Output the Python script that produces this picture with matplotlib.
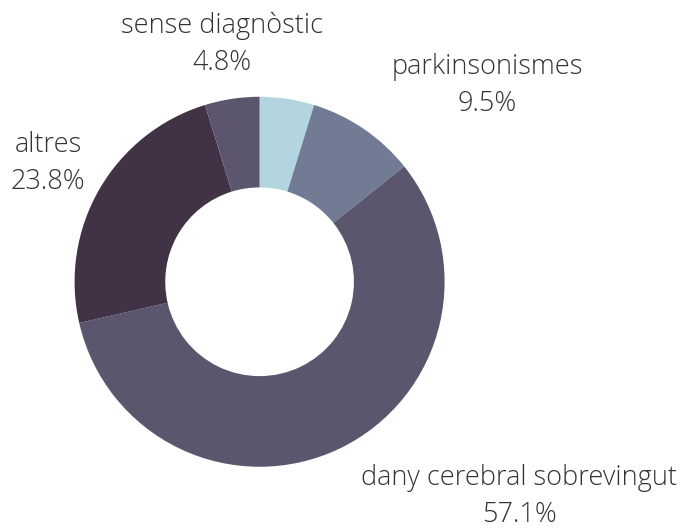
import matplotlib
matplotlib.use("Agg")
import matplotlib.pyplot as plt

categories = ["", "parkinsonismes", "dany cerebral sobrevingut", "altres", "sense diagnòstic"]
values = [1, 2, 12, 5, 1]
colors = ["#b2d5e0", "#717c94", "#5b566e", "#413245", "#5b566e"]
percent_labels = ["", "9.5%", "57.1%", "23.8%", "4.8%"]

# label anchor points, in units of the outer radius
label_pos = [None, (1.23, 1.06), (1.403, -1.16), (-1.143, 0.64), (-0.203, 1.285)]

plt.rcParams["font.family"] = ["Open Sans", "DejaVu Sans"]

fig = plt.figure(figsize=(6.79, 5.28), dpi=100)
ax = fig.add_axes([0, 0, 1, 1])
ax.pie(values, colors=colors, startangle=90, counterclock=False, radius=1,
       wedgeprops=dict(width=0.49, edgecolor="none"))

for cat, pct, pos in zip(categories, percent_labels, label_pos):
    if pos is None:
        continue
    ax.text(pos[0], pos[1], cat + "\n" + pct, ha="center", va="center",
            fontsize=19.5, fontweight="light", color="#333333", linespacing=1.42)

ax.set_xlim(-1.403, 2.267)
ax.set_ylim(-1.331, 1.523)
ax.set_aspect("equal")
ax.axis("off")

fig.savefig("out.png", dpi=100)
